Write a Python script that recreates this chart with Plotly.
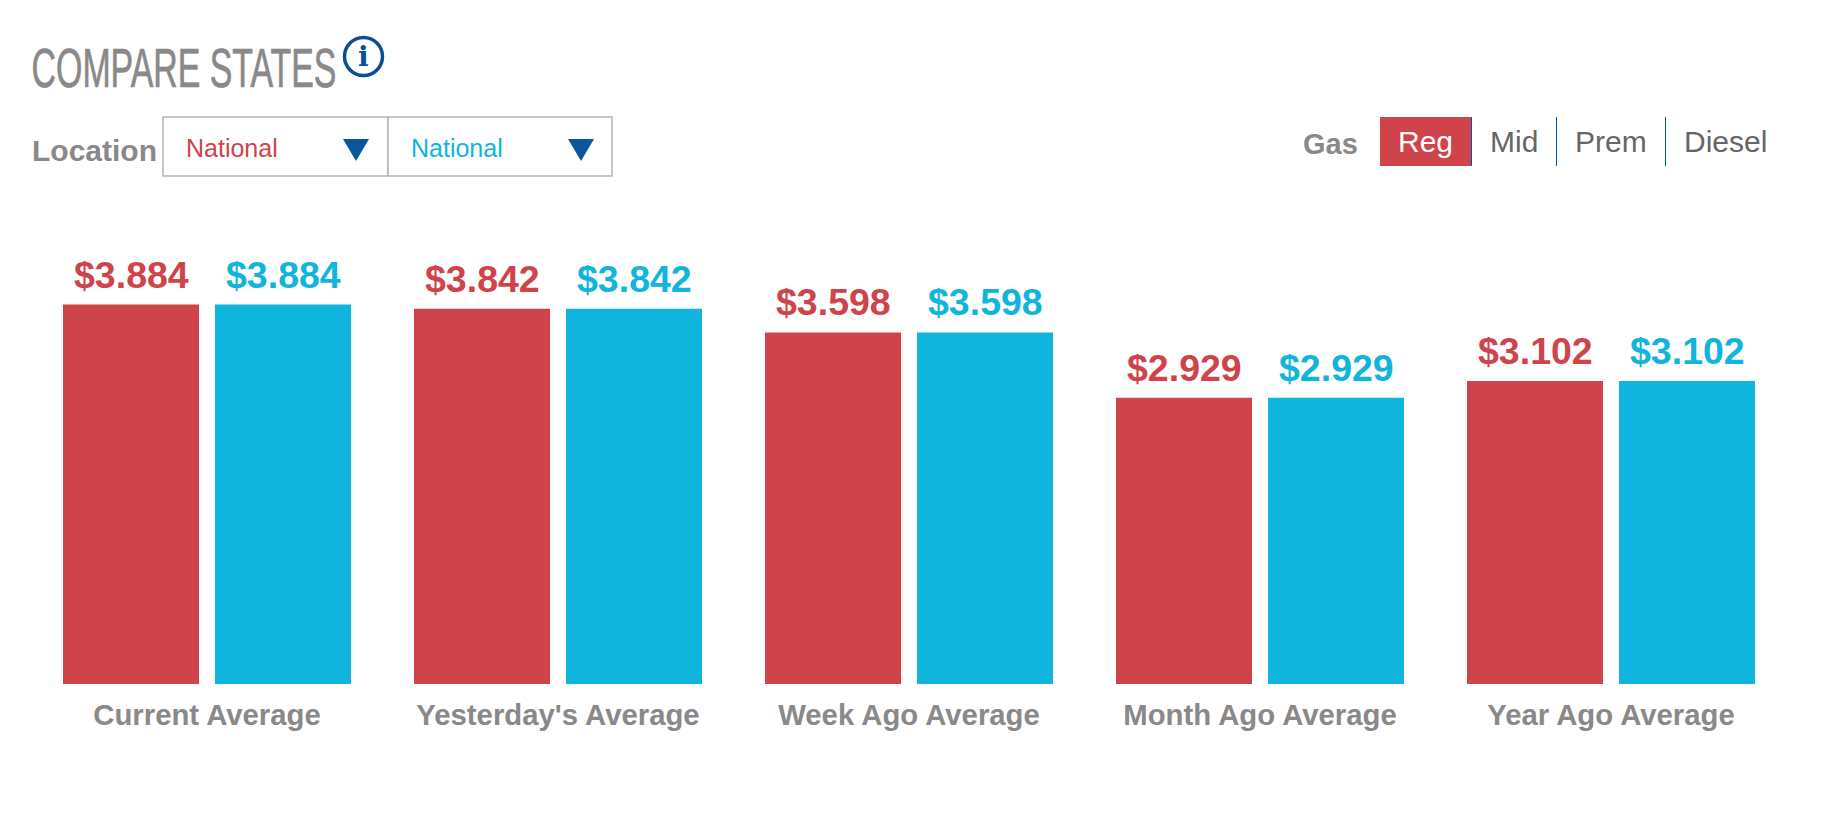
import plotly.graph_objects as go

categories = ["Current Average", "Yesterday's Average", "Week Ago Average", "Month Ago Average", "Year Ago Average"]
series_a = [3.884, 3.842, 3.598, 2.929, 3.102]
series_b = [3.884, 3.842, 3.598, 2.929, 3.102]
name_a = "National"
name_b = "National"
fuel_labels = ["Reg", "Mid", "Prem", "Diesel"]

W, H = 1822, 836
RED = "#cf434a"
BLUE = "#0fb5dc"
GRAY = "#8a8888"
NAVY = "#0a569e"
SANS = "Liberation Sans"


def px(x):
    return x / W


def py(y):
    return 1 - y / H


def label(text, x, y, size, color, anchor="left", family=SANS, bold=False, **kw):
    return dict(
        text=f"<b>{text}</b>" if bold else text,
        x=px(x), y=py(y), xref="paper", yref="paper",
        xanchor=anchor, yanchor="middle", showarrow=False, borderpad=0,
        font=dict(family=family, size=size, color=color), **kw,
    )


def rect(x0, y0, x1, y1, **kw):
    return dict(type="rect", xref="paper", yref="paper",
                x0=px(x0), x1=px(x1), y0=py(y0), y1=py(y1), **kw)


def triangle(x0, x1, y0, y1):
    d = f"M {px(x0)} {py(y0)} L {px(x1)} {py(y0)} L {px((x0 + x1) / 2)} {py(y1)} Z"
    return dict(type="path", xref="paper", yref="paper", path=d,
                fillcolor=NAVY, line=dict(width=0))


def bar(name, values, color):
    return go.Bar(
        name=name, x=categories, y=values, marker=dict(color=color, line=dict(width=0)),
        hoverinfo="skip",
    )


def value_labels(values, color, shift):
    return [
        dict(text=f"<b>${v:.3f}</b>", x=c, y=v, xref="x", yref="y",
             xshift=shift, yshift=8, yanchor="bottom", showarrow=False, borderpad=0,
             font=dict(family=SANS, size=37.5, color=color))
        for c, v in zip(categories, values)
    ]


fig = go.Figure([bar(name_a, series_a, RED), bar(name_b, series_b, BLUE)])

annotations = [
    label("COMPARE STATES", 183.5, 67.5, 56, GRAY, "center"),
    label("i", 363, 57, 28, "#0a4f96", "center", family="DejaVu Serif", bold=True),
    label("Location", 31, 150, 30, GRAY, bold=True),
    label(name_a, 185, 148, 25, RED),
    label(name_b, 409.5, 148, 25, BLUE),
    label("Gas", 1302, 144, 29, GRAY, bold=True),
]
for text, cx, color in zip(fuel_labels, [1425.5, 1513.5, 1611, 1725.5], ["#ffffff", "#666666", "#666666", "#666666"]):
    annotations.append(label(text, cx, 142, 30, color, "center"))
annotations += value_labels(series_a, RED, -76) + value_labels(series_b, BLUE, 76)

shapes = [
    dict(type="circle", xref="paper", yref="paper", x0=px(344.5), x1=px(382.5), y0=py(37.5), y1=py(75.5),
         line=dict(color="#0a4f96", width=3.5), fillcolor="white"),
    rect(163, 117, 388, 176, line=dict(color="#b5b5b5", width=1.5), fillcolor="white"),
    rect(388, 117, 612, 176, line=dict(color="#b5b5b5", width=1.5), fillcolor="white"),
    triangle(343, 369, 139, 161),
    triangle(568, 594, 139, 161),
    rect(1380, 117, 1471, 166, line=dict(width=0), fillcolor=RED),
    rect(1471, 117, 1472, 166, line=dict(width=0), fillcolor="#00559f"),
    rect(1556, 117, 1557, 166, line=dict(width=0), fillcolor="#00559f"),
    rect(1665, 117, 1666, 166, line=dict(width=0), fillcolor="#00559f"),
]

fig.update_layout(
    width=W, height=H, autosize=False,
    margin=dict(l=0, r=0, t=0, b=0, pad=0),
    paper_bgcolor="white", plot_bgcolor="white",
    showlegend=False, barmode="group", bargap=0.134, bargroupgap=0.105,
    annotations=annotations, shapes=shapes,
    xaxis=dict(domain=[31.5 / W, 1786.5 / W], showgrid=False, showline=False, ticks="", zeroline=False,
               tickfont=dict(family=SANS, size=29.3, color=GRAY), ticklabelstandoff=11,
               tickmode="array", tickvals=categories,
               ticktext=[f"<b>{c}</b>" for c in categories]),
    yaxis=dict(domain=[1 - 684 / H, 1 - 200 / H], range=[0, 484 / 97.7], visible=False),
)

# The reference title is set in a condensed face; squeeze the real text to the same width.
post = """
document.body.style.margin='0';document.body.style.overflow='hidden';
document.querySelectorAll('.annotation-text').forEach(function(t){
  if(t.textContent==='COMPARE STATES'){
    var s=305/t.getComputedTextLength();
    t.style.transformBox='fill-box';
    t.style.transformOrigin='center';
    t.style.transform='scaleX('+s+')';
    t.style.stroke='#8a8888';
    t.style.strokeWidth='0.7px';
  }
});
"""
fig.write_html("out.html", config={"displayModeBar": False}, post_script=post)
